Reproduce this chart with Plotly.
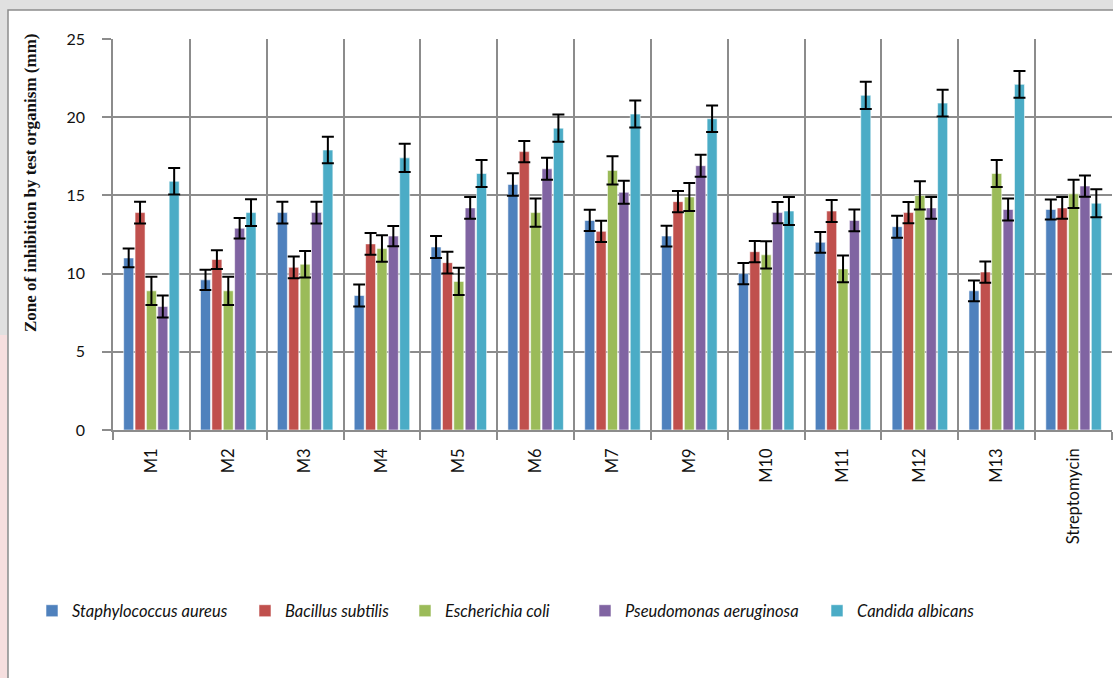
import plotly.graph_objects as go

categories = ["M1", "M2", "M3", "M4", "M5", "M6", "M7", "M9", "M10", "M11", "M12", "M13", "Streptomycin"]

staph = [11.0, 9.6, 13.9, 8.6, 11.7, 15.7, 13.4, 12.4, 10.0, 12.0, 13.0, 8.9, 14.1]
staph_err = [0.6, 0.65, 0.7, 0.7, 0.7, 0.72, 0.68, 0.66, 0.68, 0.66, 0.7, 0.66, 0.64]
bac = [13.9, 10.9, 10.4, 11.9, 10.7, 17.8, 12.7, 14.6, 11.4, 14.0, 13.9, 10.1, 14.2]
bac_err = [0.7, 0.6, 0.7, 0.7, 0.7, 0.68, 0.68, 0.68, 0.68, 0.7, 0.68, 0.68, 0.7]
ecoli = [8.9, 8.9, 10.6, 11.6, 9.5, 13.9, 16.6, 14.9, 11.2, 10.3, 15.0, 16.4, 15.1]
ecoli_err = [0.9, 0.9, 0.85, 0.85, 0.87, 0.9, 0.9, 0.9, 0.87, 0.86, 0.9, 0.87, 0.9]
pseudo = [7.9, 12.9, 13.9, 12.4, 14.2, 16.7, 15.2, 16.9, 13.9, 13.4, 14.2, 14.1, 15.6]
pseudo_err = [0.7, 0.65, 0.7, 0.65, 0.7, 0.7, 0.73, 0.7, 0.68, 0.7, 0.7, 0.7, 0.68]
cand = [15.9, 13.9, 17.9, 17.4, 16.4, 19.3, 20.2, 19.9, 14.0, 21.4, 20.9, 22.1, 14.5]
cand_err = [0.85, 0.85, 0.85, 0.9, 0.87, 0.87, 0.86, 0.85, 0.9, 0.87, 0.85, 0.85, 0.9]

series_names = ["Staphylococcus aureus", "Bacillus subtilis", "Escherichia coli",
                "Pseudomonas aeruginosa", "Candida albicans"]
series_vals = [staph, bac, ecoli, pseudo, cand]
series_errs = [staph_err, bac_err, ecoli_err, pseudo_err, cand_err]
colors = ["#4F81BD", "#C0504D", "#9BBB59", "#8064A2", "#4BACC6"]
legend_ids = ["legend", "legend2", "legend3", "legend4", "legend5"]
legend_text_px = [72, 285, 445, 625, 857]

FONT = "Lato"
L, R, T, B = 113, 1112, 39, 430
PW, PH = R - L, B - T


def px_x(p):
    return (p - L) / PW


def px_y(p):
    return (B - p) / PH


fig = go.Figure()
for name, vals, errs, col, lid in zip(series_names, series_vals, series_errs, colors, legend_ids):
    fig.add_trace(go.Bar(
        x=categories, y=vals, name=name, legend=lid,
        marker=dict(color=col, line=dict(color="rgba(255,255,255,0.7)", width=0.8)),
        error_y=dict(type="data", array=errs, visible=True, color="black", thickness=2, width=6),
    ))

layout_legends = {}
for lid, tx in zip(legend_ids, legend_text_px):
    layout_legends[lid] = dict(
        x=px_x(tx - 40), y=px_y(611), xanchor="left", yanchor="middle",
        bgcolor="rgba(0,0,0,0)", borderwidth=0,
        font=dict(family=FONT, size=16.5, color="#111", style="italic"),
    )

fig.update_layout(
    width=1113, height=678,
    margin=dict(l=L, r=1113 - R, t=T, b=678 - B, autoexpand=False),
    paper_bgcolor="#e0e0e0",
    plot_bgcolor="white",
    barmode="group",
    bargap=0.26,
    bargroupgap=0.12,
    showlegend=True,
    **layout_legends,
    xaxis=dict(
        type="category", tickson="boundaries",
        showgrid=True, gridcolor="#8c8c8c", gridwidth=1.5,
        ticks="outside", ticklen=8, tickcolor="#8c8c8c", tickwidth=1.5,
        showline=True, linecolor="#8c8c8c", linewidth=1.5,
        tickangle=-90, ticklabelstandoff=10,
        tickfont=dict(family=FONT, size=16.5, color="#111"),
        range=[-0.5, 12.5],
    ),
    yaxis=dict(
        range=[0, 25], dtick=5,
        showgrid=True, gridcolor="#8c8c8c", gridwidth=1.5,
        ticks="outside", ticklen=9, tickcolor="#8c8c8c", tickwidth=1.5,
        showline=True, linecolor="#8c8c8c", linewidth=1.5,
        zeroline=False, ticklabelstandoff=14,
        tickfont=dict(family=FONT, size=16, color="#111"),
    ),
    shapes=[
        dict(type="rect", xref="paper", yref="paper", layer="below",
             x0=px_x(8), x1=px_x(1125), y0=px_y(690), y1=px_y(10),
             fillcolor="white", line=dict(color="#8c8c8c", width=1.5)),
        dict(type="rect", xref="paper", yref="paper", layer="below",
             x0=px_x(-2), x1=px_x(7), y0=px_y(690), y1=px_y(335),
             fillcolor="#f6dfdf", line=dict(width=0)),
    ],
    annotations=[
        dict(text="<b>Zone of inhibition by test organism (mm)</b>",
             xref="paper", yref="paper", x=px_x(30), y=px_y(183),
             xanchor="center", yanchor="middle", textangle=-90, showarrow=False,
             font=dict(family="Liberation Serif", size=17, color="#111")),
    ],
)

fig.write_html("out.html", config={"displayModeBar": False},
               post_script="document.body.style.margin='0';document.body.style.overflow='hidden';")
